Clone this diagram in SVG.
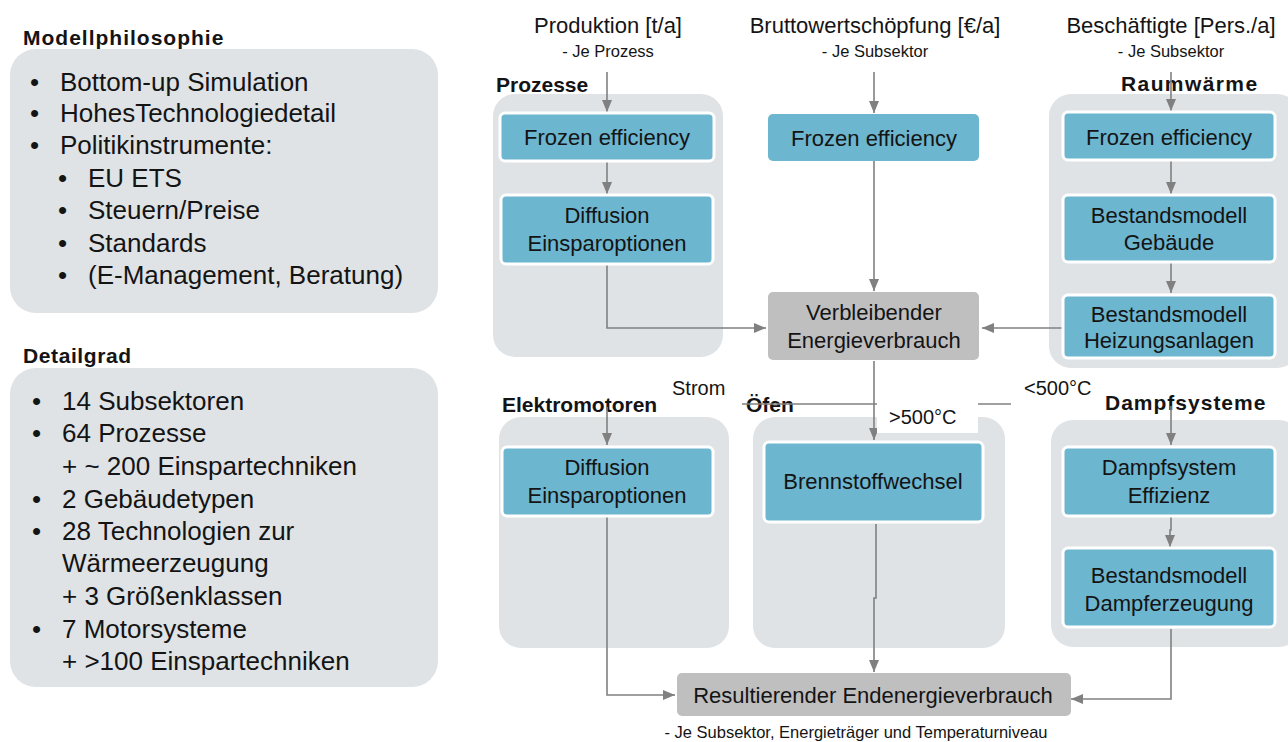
<svg xmlns="http://www.w3.org/2000/svg" width="1288" height="742" viewBox="0 0 1288 742">
<style>
text{font-family:"Liberation Sans",Arial,sans-serif;fill:#141414}
.panel{fill:#dfe3e6}
.grp{fill:#dfe3e6}
.node{fill:#6cb6cf;stroke:#ffffff;stroke-width:3}
.node0{fill:#6cb6cf}
.gnode{fill:#bfbfbf}
.t{font-size:22px;text-anchor:middle}
.big{font-size:26px}
.hd{font-size:21px;font-weight:bold}
.top{font-size:22px;text-anchor:middle}
.sub{font-size:16.5px;text-anchor:middle}
.lbl{font-size:20px}
.conn{fill:none;stroke:#808080;stroke-width:1.6}
</style>
<defs>
<marker id="ah" viewBox="0 0 12 10" refX="12" refY="5" markerWidth="12" markerHeight="10" markerUnits="userSpaceOnUse" orient="auto">
<path d="M0,0 L12,5 L0,10 z" fill="#808080"/>
</marker>
</defs>

<g id="modellphilosophie">
<text x="23" y="45" class="hd" letter-spacing="1">Modellphilosophie</text>
<rect x="10" y="49" width="428" height="264" rx="26" class="panel"/>
<g class="big">
<text x="30" y="91">•</text><text x="60" y="91">Bottom-up Simulation</text>
<text x="30" y="122">•</text><text x="60" y="122">HohesTechnologiedetail</text>
<text x="30" y="154">•</text><text x="60" y="154">Politikinstrumente:</text>
<text x="58" y="187">•</text><text x="88" y="187">EU ETS</text>
<text x="58" y="219">•</text><text x="88" y="219">Steuern/Preise</text>
<text x="58" y="252">•</text><text x="88" y="252">Standards</text>
<text x="58" y="284">•</text><text x="88" y="284">(E-Management, Beratung)</text>
</g>
</g>

<g id="detailgrad">
<text x="23" y="363" class="hd" letter-spacing="0.6">Detailgrad</text>
<rect x="10" y="368" width="428" height="319" rx="26" class="panel"/>
<g class="big">
<text x="32" y="410">•</text><text x="62" y="410">14 Subsektoren</text>
<text x="32" y="442">•</text><text x="62" y="442">64 Prozesse</text>
<text x="62" y="475">+ ~ 200 Einspartechniken</text>
<text x="32" y="508">•</text><text x="62" y="508">2 Gebäudetypen</text>
<text x="32" y="540">•</text><text x="62" y="540">28 Technologien zur</text>
<text x="62" y="572">Wärmeerzeugung</text>
<text x="62" y="605">+ 3 Größenklassen</text>
<text x="32" y="638">•</text><text x="62" y="638">7 Motorsysteme</text>
<text x="62" y="670">+ &gt;100 Einspartechniken</text>
</g>
</g>

<g id="inputs">
<text x="608" y="33" class="top">Produktion [t/a]</text>
<text x="608" y="57" class="sub">- Je Prozess</text>
<text x="875" y="33" class="top">Bruttowertschöpfung [€/a]</text>
<text x="875" y="57" class="sub">- Je Subsektor</text>
<text x="1171" y="33" class="top">Beschäftigte [Pers./a]</text>
<text x="1171" y="57" class="sub">- Je Subsektor</text>
</g>

<g id="grp-prozesse">
<text x="496" y="92" class="hd">Prozesse</text>
<rect x="493" y="94" width="230" height="263" rx="22" class="grp"/>
</g>
<g id="grp-raumwaerme">
<text x="1121" y="91" class="hd" letter-spacing="1.4">Raumwärme</text>
<rect x="1049" y="94" width="250" height="274" rx="22" class="grp"/>
</g>
<g id="grp-elektromotoren">
<rect x="499" y="417" width="230" height="231" rx="22" class="grp"/>
<text x="502" y="412" class="hd">Elektromotoren</text>
</g>
<g id="grp-oefen">
<rect x="753" y="417" width="252" height="231" rx="22" class="grp"/>
<text x="746" y="412" class="hd">Öfen</text>
</g>
<g id="grp-dampfsysteme">
<rect x="1051" y="420" width="250" height="227" rx="22" class="grp"/>
<text x="1105" y="410" class="hd" letter-spacing="1">Dampfsysteme</text>
</g>

<g id="connectors">
<path class="conn" d="M607,72 V112" marker-end="url(#ah)"/>
<path class="conn" d="M607,162 V194" marker-end="url(#ah)"/>
<path class="conn" d="M607,265 V328 H766" marker-end="url(#ah)"/>
<path class="conn" d="M874,72 V113" marker-end="url(#ah)"/>
<path class="conn" d="M874,161 V291" marker-end="url(#ah)"/>
<path class="conn" d="M1171,72 V111" marker-end="url(#ah)"/>
<path class="conn" d="M1171,161 V194" marker-end="url(#ah)"/>
<path class="conn" d="M1171,263 V293" marker-end="url(#ah)"/>
<path class="conn" d="M1062,328 H982" marker-end="url(#ah)"/>
<path class="conn" d="M742,404 H877"/>
<path class="conn" d="M978,404 H1011"/>
<path class="conn" d="M874,361 V440" marker-end="url(#ah)"/>
<path class="conn" d="M607,407 V445" marker-end="url(#ah)"/>
<path class="conn" d="M1171,406 V445" marker-end="url(#ah)"/>
<path class="conn" d="M1171,517 V530 H1170 V547" marker-end="url(#ah)"/>
<path class="conn" d="M876,524 V598 H874 V672" marker-end="url(#ah)"/>
<path class="conn" d="M607,517 V695 H675" marker-end="url(#ah)"/>
<path class="conn" d="M1171,629 V699 H1071" marker-end="url(#ah)"/>
</g>

<g id="labels">
<text x="672" y="395" class="lbl">Strom</text>
<text x="1024" y="395" class="lbl">&lt;500°C</text>
<rect x="877" y="405" width="101" height="28" fill="#ffffff"/>
<text x="889" y="424" class="lbl">&gt;500°C</text>
</g>

<g id="n-frozen-prozesse">
<rect x="500" y="113" width="214" height="48" rx="5" class="node"/>
<text x="607" y="145" class="t">Frozen efficiency</text>
</g>
<g id="n-diffusion-prozesse">
<rect x="501" y="195" width="212" height="69" rx="5" class="node"/>
<text x="607" y="223" class="t">Diffusion</text>
<text x="607" y="251" class="t">Einsparoptionen</text>
</g>
<g id="n-frozen-mitte">
<rect x="768" y="114" width="211" height="47" rx="5" class="node0"/>
<text x="874" y="146" class="t">Frozen efficiency</text>
</g>
<g id="n-verbleibend">
<rect x="768" y="292" width="211" height="68" rx="5" class="gnode"/>
<text x="874" y="320" class="t">Verbleibender</text>
<text x="874" y="348" class="t">Energieverbrauch</text>
</g>
<g id="n-frozen-raum">
<rect x="1063" y="112" width="212" height="48" rx="5" class="node"/>
<text x="1169" y="145" class="t">Frozen efficiency</text>
</g>
<g id="n-gebaeude">
<rect x="1063" y="195" width="212" height="67" rx="5" class="node"/>
<text x="1169" y="223" class="t">Bestandsmodell</text>
<text x="1169" y="250" class="t">Gebäude</text>
</g>
<g id="n-heizung">
<rect x="1063" y="295" width="212" height="63" rx="5" class="node"/>
<text x="1169" y="322" class="t">Bestandsmodell</text>
<text x="1169" y="348" class="t">Heizungsanlagen</text>
</g>
<g id="n-diffusion-motoren">
<rect x="502" y="447" width="211" height="69" rx="5" class="node"/>
<text x="607" y="475" class="t">Diffusion</text>
<text x="607" y="503" class="t">Einsparoptionen</text>
</g>
<g id="n-brennstoff">
<rect x="764" y="442" width="219" height="80" rx="5" class="node"/>
<text x="873" y="489" class="t">Brennstoffwechsel</text>
</g>
<g id="n-dampf-eff">
<rect x="1063" y="447" width="212" height="69" rx="5" class="node"/>
<text x="1169" y="475" class="t">Dampfsystem</text>
<text x="1169" y="503" class="t">Effizienz</text>
</g>
<g id="n-dampferzeugung">
<rect x="1063" y="548" width="212" height="79" rx="5" class="node"/>
<text x="1169" y="583" class="t">Bestandsmodell</text>
<text x="1169" y="611" class="t">Dampferzeugung</text>
</g>
<g id="n-resultierend">
<rect x="677" y="673" width="394" height="43" rx="5" class="gnode"/>
<text x="873" y="703" class="t" font-size="21.5px">Resultierender Endenergieverbrauch</text>
<text x="856" y="738" class="sub" font-size="18px">- Je Subsektor, Energieträger und Temperaturniveau</text>
</g>
</svg>
